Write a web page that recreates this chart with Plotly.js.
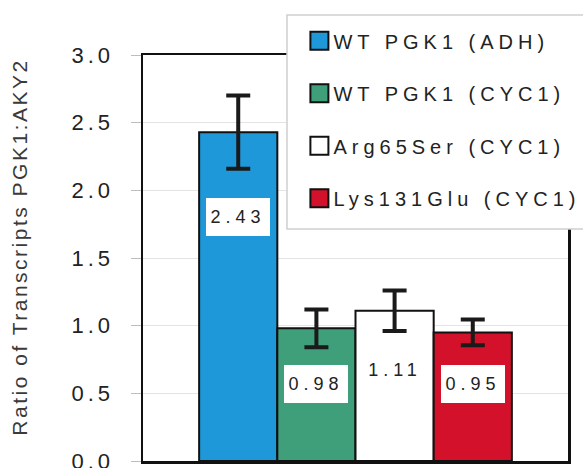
<!DOCTYPE html>
<html>
<head>
<meta charset="utf-8">
<script src="https://cdn.plot.ly/plotly-3.0.1.min.js"></script>
<style>
  html, body { margin: 0; padding: 0; background: #fff; }
  .ytick text { letter-spacing: 4px; }
  .annotation-text { letter-spacing: 5px; }
  .legendtext { letter-spacing: 5px; transform: translateX(-6px); }
  .ytitle { letter-spacing: 2.5px; translate: -1px -11px; }
  .legend .legendpoints path { d: path("M9,9H-9V-9H9Z"); }
</style>
</head>
<body>
<div id="chart" style="width:583px;height:468px;"></div>
<script>
// ---- data ----
const categories = ["WT PGK1 (ADH)", "WT PGK1 (CYC1)", "Arg65Ser (CYC1)", "Lys131Glu (CYC1)"];
const values = [2.43, 0.98, 1.11, 0.95];
const errors = [0.27, 0.14, 0.15, 0.095];
const valueLabels = ["2.43", "0.98", "1.11", "0.95"];
const yTickVals = [0, 0.5, 1.0, 1.5, 2.0, 2.5, 3.0];
const yTickText = ["0.0", "0.5", "1.0", "1.5", "2.0", "2.5", "3.0"];

// ---- styling ----
const colors = ["#1e98d8", "#3f9f7b", "#ffffff", "#d3112a"];
const labelY = [1.80, 0.57, 0.67, 0.57];
const FONT = '"Liberation Sans", Arial, Helvetica, sans-serif';

const traces = categories.map((c, i) => ({
  type: 'bar',
  name: c,
  x: [c],
  y: [values[i]],
  width: 1,
  legendgroup: 'g' + i,
  marker: { color: colors[i], line: { color: '#111', width: 2 } },
  error_y: { type: 'data', array: [errors[i]], visible: true, color: '#1a1a1a', thickness: 4, width: 12 },
  hoverinfo: 'none'
}));

const annotations = categories.map((c, i) => ({
  xref: 'x', yref: 'y', x: c, y: labelY[i],
  text: valueLabels[i],
  showarrow: false,
  font: { family: FONT, size: 18, color: '#222' },
  bgcolor: '#ffffff',
  bordercolor: '#ffffff',
  borderwidth: 1,
  borderpad: 2,
  width: 58, height: 32,
  xanchor: 'center', yanchor: 'middle'
}));

const layout = {
  width: 583, height: 468,
  margin: { l: 143, r: 15, t: 55, b: 7, autoexpand: false },
  paper_bgcolor: '#fff', plot_bgcolor: '#fff',
  barmode: 'overlay',
  bargap: 0,
  showlegend: true,
  font: { family: FONT, color: '#222' },
  xaxis: {
    type: 'category',
    categoryarray: categories,
    range: [-1.218, 4.218],
    showticklabels: false,
    ticks: '',
    showgrid: false,
    zeroline: false,
    showline: true, linecolor: '#111', linewidth: 2.5, mirror: true,
    fixedrange: true
  },
  yaxis: {
    range: [0, 3],
    tickvals: yTickVals,
    ticktext: yTickText,
    ticks: 'outside', ticklen: 10, tickcolor: '#bdbdbd', tickwidth: 1,
    ticklabelstandoff: 12,
    ticklabeloverflow: 'allow',
    tickfont: { family: FONT, size: 22, color: '#222' },
    showgrid: true, gridcolor: '#e4e4e4', gridwidth: 1,
    zeroline: false,
    showline: true, linecolor: '#111', linewidth: 2.5, mirror: true,
    title: { text: 'Ratio of Transcripts PGK1:AKY2', font: { family: FONT, size: 21, color: '#3a3a3a' }, standoff: 37 },
    fixedrange: true
  },
  legend: {
    x: 0.368, xanchor: 'left',
    y: 1.083, yanchor: 'top',
    bgcolor: 'rgba(0,0,0,0)',
    borderwidth: 0,
    traceorder: 'grouped',
    tracegroupgap: 23.5,
    font: { family: FONT, size: 20, color: '#222' }
  },
  shapes: [{
    type: 'rect', xref: 'paper', yref: 'paper', layer: 'above',
    x0: 0.3388, x1: 1.2, y0: 0.5714, y1: 1.0985,
    fillcolor: '#ffffff', line: { color: '#cfcfcf', width: 1.5 }
  }],
  annotations: annotations
};

Plotly.newPlot('chart', traces, layout, { displayModeBar: false, staticPlot: true });
</script>
</body>
</html>
